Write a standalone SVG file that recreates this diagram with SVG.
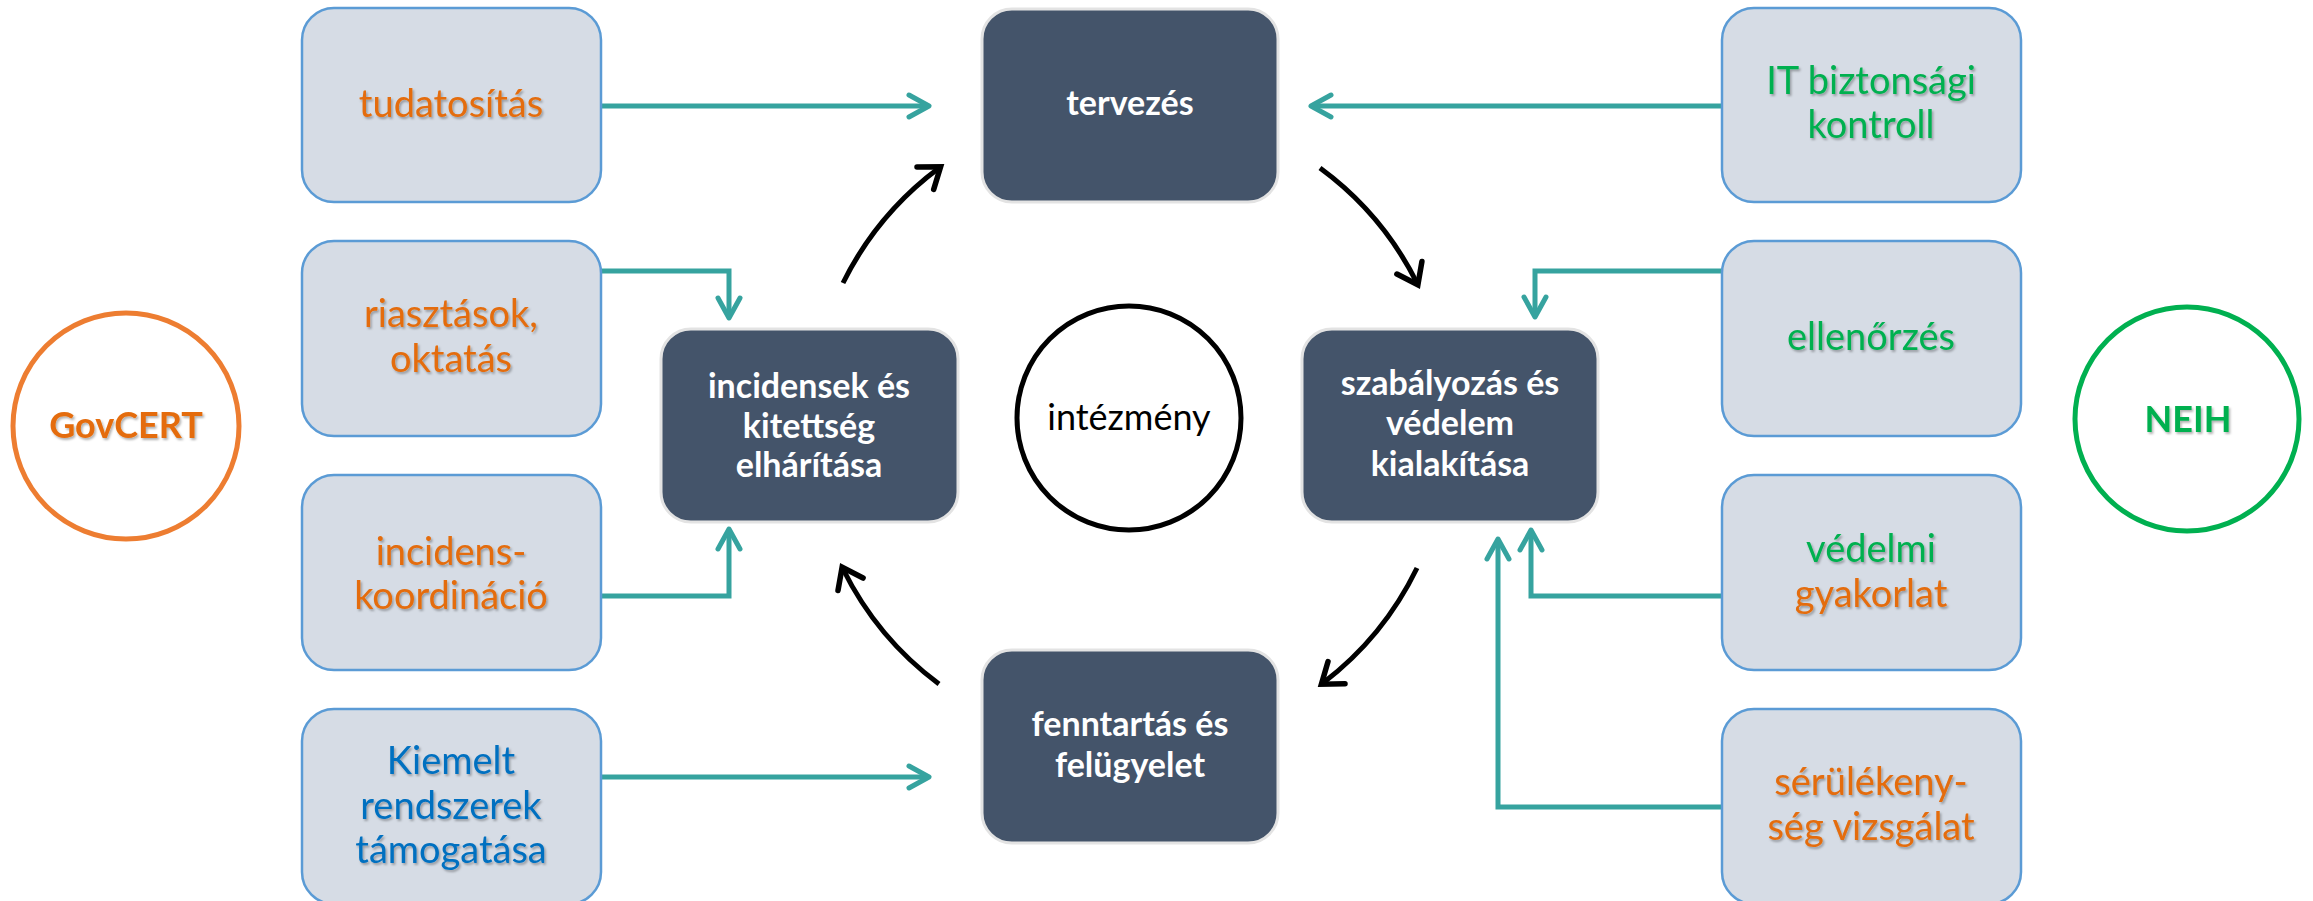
<svg xmlns="http://www.w3.org/2000/svg" width="2313" height="901" viewBox="0 0 2313 901">
  <style>
    .lbox { fill: #D6DCE5; stroke: #5B9BD5; stroke-width: 2.5; }
    .dbox { fill: #44546A; stroke: #E3E3E3; stroke-width: 3; }
    .lt { font-family: Lato, "Liberation Sans", sans-serif; font-size: 38px; text-anchor: middle; filter: url(#sh); }
    .dt { font-family: Lato, "Liberation Sans", sans-serif; font-size: 34px; font-weight: bold; fill: #FFFFFF; text-anchor: middle; }
    .or { fill: #E46C0A; }
    .gr { fill: #00B050; }
    .bl { fill: #0070C0; }
    .teal { fill: none; stroke: #36A39F; stroke-width: 5; marker-end: url(#ta); }
    .blk { fill: none; stroke: #000000; stroke-width: 5; marker-end: url(#ba); }
  </style>
  <defs>
    <filter id="sh" x="-10%" y="-20%" width="130%" height="150%">
      <feDropShadow dx="1.5" dy="2" stdDeviation="1.2" flood-color="#000000" flood-opacity="0.3"/>
    </filter>
    <marker id="ta" markerUnits="userSpaceOnUse" viewBox="-30 -20 40 40" markerWidth="40" markerHeight="40" refX="-2" refY="0" orient="auto">
      <path d="M -20 -11 L 0 0 L -20 11" fill="none" stroke="#36A39F" stroke-width="5" stroke-linecap="round" stroke-linejoin="round"/>
    </marker>
    <marker id="ba" markerUnits="userSpaceOnUse" viewBox="-30 -20 40 40" markerWidth="40" markerHeight="40" refX="-2" refY="0" orient="auto">
      <path d="M -19 -14 L 0 0 L -19 14" fill="none" stroke="#000000" stroke-width="5.5" stroke-linecap="round" stroke-linejoin="miter"/>
    </marker>
  </defs>

  <g id="connectors">
    <path class="teal" d="M 601 106 H 927"/>
    <path class="teal" d="M 1722 106 H 1313"/>
    <path class="teal" d="M 601 271 H 729 V 316"/>
    <path class="teal" d="M 601 596 H 729 V 531"/>
    <path class="teal" d="M 601 777 H 927"/>
    <path class="teal" d="M 1722 271 H 1535 V 315"/>
    <path class="teal" d="M 1722 596 H 1531 V 532"/>
    <path class="teal" d="M 1722 807 H 1498 V 541"/>
    <path class="blk" d="M 843 283 A 320 320 0 0 1 939 168"/>
    <path class="blk" d="M 1320 168 A 320 320 0 0 1 1417 283"/>
    <path class="blk" d="M 1417 568 A 320 320 0 0 1 1323 683"/>
    <path class="blk" d="M 939 684 A 320 320 0 0 1 843 569"/>
  </g>

  <g id="govcert">
    <circle cx="126" cy="426" r="113" fill="#FFFFFF" stroke="#ED7D31" stroke-width="5"/>
    <text x="126" y="438" class="lt or" style="font-weight:bold;font-size:36px">GovCERT</text>
  </g>
  <g id="neih">
    <circle cx="2187" cy="419" r="112" fill="#FFFFFF" stroke="#00B050" stroke-width="5"/>
    <text x="2188" y="432" class="lt gr" style="font-weight:bold;font-size:36px">NEIH</text>
  </g>
  <g id="intezmeny">
    <circle cx="1129" cy="418" r="112" fill="#FFFFFF" stroke="#000000" stroke-width="5"/>
    <text x="1129" y="430" style="font-family: Lato, 'Liberation Sans', sans-serif; font-size: 36px; text-anchor: middle; fill: #000000">intézmény</text>
  </g>

  <g id="tudatositas">
    <rect class="lbox" x="302" y="8" width="299" height="194" rx="32"/>
    <text class="lt or" x="451" y="117">tudatosítás</text>
  </g>
  <g id="riasztasok">
    <rect class="lbox" x="302" y="241" width="299" height="195" rx="32"/>
    <text class="lt or" x="451" y="327">riasztások,</text>
    <text class="lt or" x="451" y="372">oktatás</text>
  </g>
  <g id="incidenskoordinacio">
    <rect class="lbox" x="302" y="475" width="299" height="195" rx="32"/>
    <text class="lt or" x="451" y="565">incidens-</text>
    <text class="lt or" x="451" y="609">koordináció</text>
  </g>
  <g id="kiemelt">
    <rect class="lbox" x="302" y="709" width="299" height="195" rx="32"/>
    <text class="lt bl" x="451" y="774">Kiemelt</text>
    <text class="lt bl" x="451" y="819">rendszerek</text>
    <text class="lt bl" x="451" y="863">támogatása</text>
  </g>

  <g id="itbiztonsagi">
    <rect class="lbox" x="1722" y="8" width="299" height="194" rx="32"/>
    <text class="lt gr" x="1871" y="94">IT biztonsági</text>
    <text class="lt gr" x="1871" y="138">kontroll</text>
  </g>
  <g id="ellenorzes">
    <rect class="lbox" x="1722" y="241" width="299" height="195" rx="32"/>
    <text class="lt gr" x="1871" y="350">ellenőrzés</text>
  </g>
  <g id="vedelmigyakorlat">
    <rect class="lbox" x="1722" y="475" width="299" height="195" rx="32"/>
    <text class="lt gr" x="1871" y="562">védelmi</text>
    <text class="lt or" x="1871" y="607">gyakorlat</text>
  </g>
  <g id="serulekenyseg">
    <rect class="lbox" x="1722" y="709" width="299" height="195" rx="32"/>
    <text class="lt or" x="1871" y="795">sérülékeny-</text>
    <text class="lt or" x="1871" y="840">ség vizsgálat</text>
  </g>

  <g id="tervezes">
    <rect class="dbox" x="982" y="9" width="296" height="193" rx="30"/>
    <text class="dt" x="1130" y="115">tervezés</text>
  </g>
  <g id="incidensek">
    <rect class="dbox" x="661" y="329" width="297" height="193" rx="30"/>
    <text class="dt" x="809" y="398">incidensek és</text>
    <text class="dt" x="809" y="438">kitettség</text>
    <text class="dt" x="809" y="477">elhárítása</text>
  </g>
  <g id="szabalyozas">
    <rect class="dbox" x="1302" y="329" width="296" height="193" rx="30"/>
    <text class="dt" x="1450" y="395">szabályozás és</text>
    <text class="dt" x="1450" y="435">védelem</text>
    <text class="dt" x="1450" y="476">kialakítása</text>
  </g>
  <g id="fenntartas">
    <rect class="dbox" x="982" y="650" width="296" height="193" rx="30"/>
    <text class="dt" x="1130" y="736">fenntartás és</text>
    <text class="dt" x="1130" y="777">felügyelet</text>
  </g>
</svg>
